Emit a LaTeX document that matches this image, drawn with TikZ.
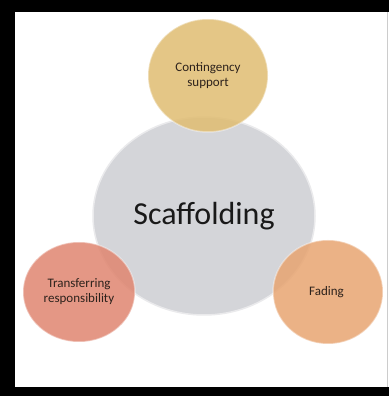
\documentclass[tikz,border=0pt]{standalone}
\usepackage{fontspec}
\setmainfont{Carlito}
\usetikzlibrary{shapes.geometric}

\definecolor{hubgray}{RGB}{212,213,217}
\definecolor{hubrim}{RGB}{234,234,236}
\definecolor{goldfill}{RGB}{224,188,112}
\definecolor{salmonfill}{RGB}{224,132,110}
\definecolor{peachfill}{RGB}{232,164,112}
\definecolor{labeltext}{RGB}{45,34,28}

\begin{document}
\begin{tikzpicture}[
  x=1pt, y=1pt,
  hub/.style={ellipse, draw=hubrim, line width=1.5pt, fill=hubgray, inner sep=0pt,
    minimum width=222pt, minimum height=198pt, font=\fontsize{32}{36}\selectfont, text=black!90},
  bubble/.style={ellipse, draw=white, draw opacity=0.4, line width=1.5pt, fill opacity=0.84,
    text opacity=1, inner sep=0pt, align=center, text=labeltext,
    font=\fontsize{13}{15}\selectfont},
]
  \useasboundingbox (0,0) rectangle (389,396);
  \fill[black] (0,0) rectangle (389,396);
  \fill[white] (15,9) rectangle (389,384);
  \draw[gray!40, line width=0.8pt] (387.5,9) -- (387.5,384);

  \node[hub] (scaffold) at (204,180) {Scaffolding};

  \node[bubble, fill=goldfill, minimum width=120pt, minimum height=113pt] (contingency) at (208,320.5) {
    Contingency\\support
  };

  \node[bubble, fill=salmonfill, minimum width=112pt, minimum height=100pt] (transfer) at (79,104) {
    Transferring\\responsibility
  };

  \node[bubble, fill=peachfill, minimum width=110pt, minimum height=104pt] (fading) at (328,104) {
    Fading
  };
\end{tikzpicture}
\end{document}
